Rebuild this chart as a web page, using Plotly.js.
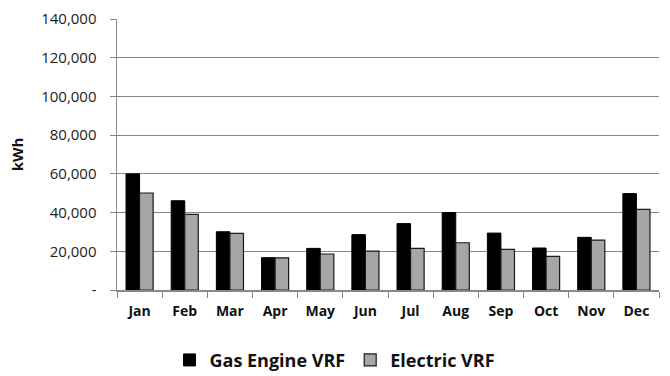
<!DOCTYPE html>
<html><head><meta charset="utf-8">
<script src="https://cdn.plot.ly/plotly-3.0.1.min.js"></script>
<style>body{margin:0;background:#fff}#c{width:670px;height:376px}</style>
</head><body><div id="c"></div>
<script>
const months = ["Jan","Feb","Mar","Apr","May","Jun","Jul","Aug","Sep","Oct","Nov","Dec"];
const gasEngine = [60000,46100,30100,16700,21500,28600,34300,40000,29400,21700,27200,49800];
const electric  = [50100,39100,29300,16600,18600,20100,21500,24400,21000,17400,25800,41700];
const yTickVals = [0,20000,40000,60000,80000,100000,120000,140000];
const yTickText = ["-","20,000","40,000","60,000","80,000","100,000","120,000","140,000"];

const fontFam = "'Open Sans', sans-serif";
const data = [
  {type:"bar", name:"Gas Engine VRF", x:months, y:gasEngine,
   marker:{color:"#000000", line:{color:"#000000", width:1}}},
  {type:"bar", name:"Electric VRF", x:months, y:electric,
   marker:{color:"#a6a6a6", line:{color:"#1a1a1a", width:1.2}}}
];
const layout = {
  width:670, height:376,
  margin:{l:117, r:11, t:19, b:86, autoexpand:false},
  paper_bgcolor:"#fff", plot_bgcolor:"#fff",
  barmode:"group", bargap:0.4, bargroupgap:0,
  font:{family:fontFam, color:"#111", size:14},
  showlegend:true,
  legend:{orientation:"h", x:0.5, xref:"container", xanchor:"center",
          y:0.042, yref:"container", yanchor:"middle",
          font:{size:18, family:fontFam, weight:"bold", color:"#111"}, itemwidth:30, traceorder:"normal"},
  xaxis:{type:"category", showline:true, linecolor:"#888", linewidth:1.5,
         ticks:"outside", tickson:"boundaries", ticklen:6, tickcolor:"#888",
         ticklabelstandoff:8,
         tickfont:{size:14, weight:"bold", family:fontFam, color:"#111"}, showgrid:false},
  yaxis:{range:[0,140000], tickvals:yTickVals, ticktext:yTickText,
         showline:true, linecolor:"#888", linewidth:1.5,
         ticks:"outside", ticklen:6, tickcolor:"#888",
         showgrid:true, gridcolor:"#888", gridwidth:1.2, zeroline:false,
         tickfont:{size:15, family:fontFam, color:"#222"}, ticklabelstandoff:10,
         title:{text:"kWh", font:{size:15, weight:"bold", family:fontFam, color:"#111"}, standoff:14}}
};
Plotly.newPlot("c", data, layout, {staticPlot:true});
</script></body></html>
